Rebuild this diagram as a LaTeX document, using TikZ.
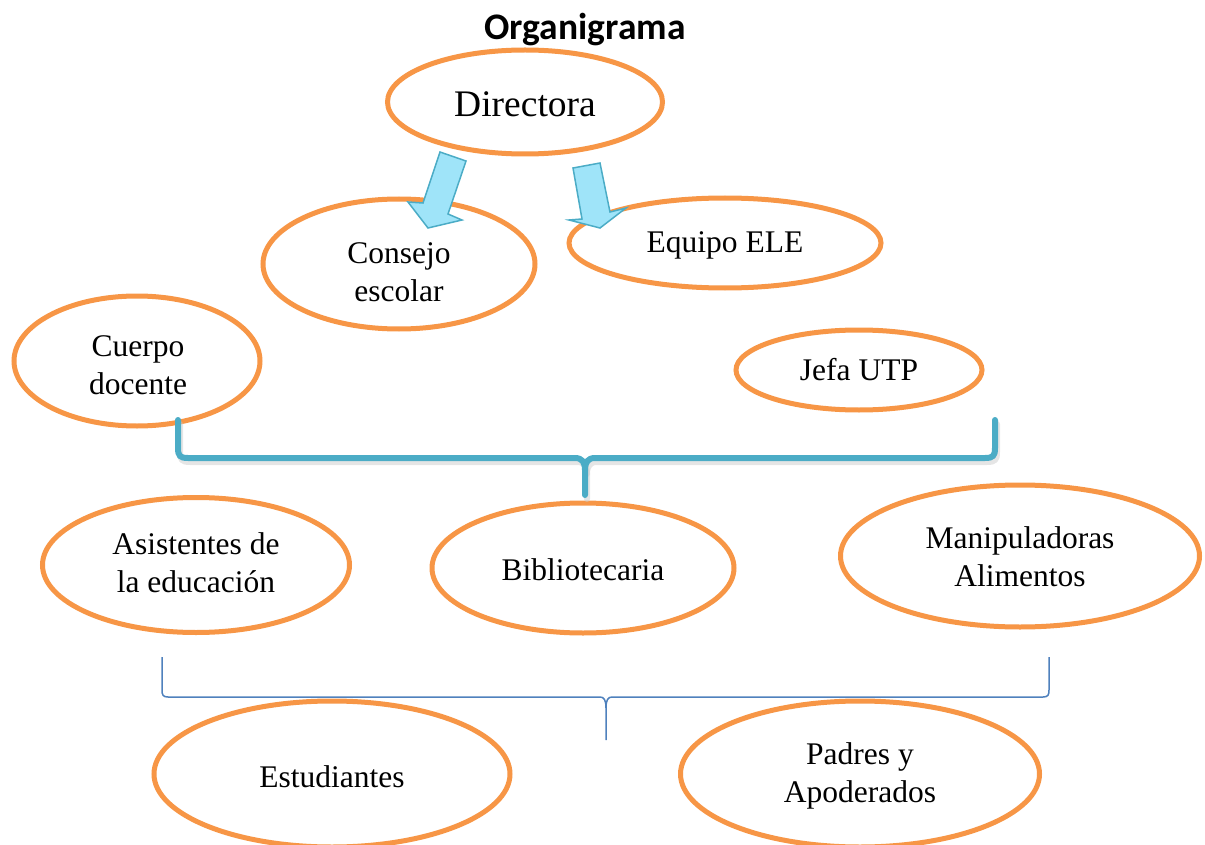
\documentclass[tikz,border=0pt]{standalone}
\usepackage{fontspec}
\usetikzlibrary{shapes.geometric}
\setmainfont{Liberation Serif}
\newfontfamily\titlefont{Carlito}
\definecolor{orng}{HTML}{F79646}
\definecolor{teal1}{HTML}{4BACC6}
\definecolor{arrfill}{HTML}{9FE4F9}
\definecolor{blu}{HTML}{4F81BD}
\begin{document}
\begin{tikzpicture}[x=1pt,y=-1pt,
  oval/.style={draw=orng,line width=5pt,ellipse,inner sep=0pt,fill=white},
  lbl/.style={align=center,inner sep=0pt,font=\fontsize{31.5}{38}\selectfont},
  blockarrow/.style={draw=teal1,line width=1.5pt,fill=arrfill,line join=miter},
  bracetop/.style={draw=teal1,line width=6pt,line cap=round,line join=round},
  braceshadow/.style={draw=black!20,line width=6pt,line cap=round,line join=round},
  bracebot/.style={draw=blu,line width=1.5pt}]
\useasboundingbox (0,0) rectangle (1205,845);
\node[font=\titlefont\bfseries\fontsize{37.5}{42}\selectfont,inner sep=0pt] (title) at (585,30) {Organigrama};
% ellipses
\node[oval,minimum width=275pt,minimum height=104pt] (dir) at (525,102) {};
\node[oval,minimum width=272pt,minimum height=130pt] (cons) at (399,264) {};
\node[oval,minimum width=312pt,minimum height=90pt] (equ) at (725,243) {};
\node[oval,minimum width=246pt,minimum height=130pt] (cue) at (137,361) {};
\node[oval,minimum width=246pt,minimum height=80pt] (jefa) at (859,370) {};
\node[oval,minimum width=307pt,minimum height=135pt] (asi) at (196,565) {};
\node[oval,minimum width=302pt,minimum height=130pt] (bib) at (583,568) {};
\node[oval,minimum width=359pt,minimum height=142pt] (man) at (1020,556) {};
\node[oval,minimum width=356pt,minimum height=146pt] (est) at (332,774) {};
\node[oval,minimum width=359pt,minimum height=146pt] (pad) at (860,774) {};
% labels
\node[lbl,font=\fontsize{37.5}{44}\selectfont] (tdir) at (525,104) {Directora};
\node[lbl] (tcons) at (399,272) {Consejo\\escolar};
\node[lbl] (tequ) at (725,245) {Equipo ELE};
\node[lbl] (tcue) at (138,365) {Cuerpo\\docente};
\node[lbl] (tjefa) at (859,370) {Jefa UTP};
\node[lbl] (tasi) at (196,563) {Asistentes de\\la educación};
\node[lbl] (tbib) at (583,570) {Bibliotecaria};
\node[lbl] (tman) at (1020,557) {Manipuladoras\\Alimentos};
\node[lbl] (test) at (332,777) {Estudiantes};
\node[lbl] (tpad) at (860,776) {Padres y\\Apoderados};
% block arrows
\draw[blockarrow] (440,152) -- (423,203) -- (408,202) -- (428,228) -- (462,220) -- (448,214) -- (466,161) -- cycle;
\draw[blockarrow] (573,168) -- (582,219) -- (569,220) -- (600,228) -- (626,208) -- (610,212) -- (600,163) -- cycle;
% top brace
\begin{scope}[shift={(2,4)}]
\draw[braceshadow,draw opacity=0.5] (178,420) -- (178,448) .. controls (178,456) and (180,458) .. (188,458) -- (575,458) .. controls (582,458) and (585,462) .. (585,470) -- (585,495);
\draw[braceshadow,draw opacity=0.5] (995,420) -- (995,448) .. controls (995,456) and (993,458) .. (985,458) -- (595,458) .. controls (588,458) and (585,462) .. (585,470);
\end{scope}
\draw[bracetop] (178,420) -- (178,448) .. controls (178,456) and (180,458) .. (188,458) -- (575,458) .. controls (582,458) and (585,462) .. (585,470) -- (585,495);
\draw[bracetop] (995,420) -- (995,448) .. controls (995,456) and (993,458) .. (985,458) -- (595,458) .. controls (588,458) and (585,462) .. (585,470);
% bottom brace
\draw[bracebot] (162,657) -- (162,690) .. controls (162,695) and (163,697) .. (168,697) -- (600,697) .. controls (604,697) and (606,700) .. (606,708) -- (606,740);
\draw[bracebot] (1049,657) -- (1049,690) .. controls (1049,695) and (1048,697) .. (1043,697) -- (612,697) .. controls (608,697) and (606,700) .. (606,708);
\end{tikzpicture}
\end{document}
